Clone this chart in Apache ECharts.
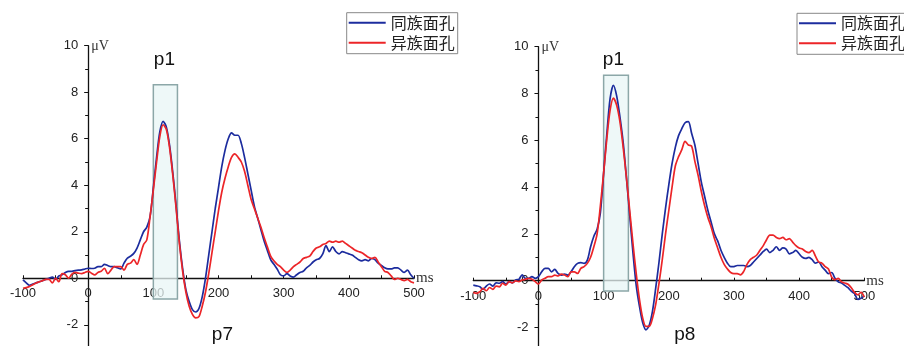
<!DOCTYPE html>
<html>
<head>
<meta charset="utf-8">
<script src="https://cdn.jsdelivr.net/npm/echarts@6/dist/echarts.min.js"></script>
<style>
  html, body { margin: 0; padding: 0; background: #fff; }
  #chart { width: 904px; height: 346px; }
</style>
</head>
<body>
<div id="chart"></div>
<script>
// time points (ms), every 5 ms from -100 to 500
const times = []
for (let t = -100; t <= 500; t += 5) times.push(t)

const names = ['同族面孔', '异族面孔']

// left panel (P7)
const leftSame = [
  -0.07, -0.2, -0.3, -0.25, -0.2, -0.15, -0.1, -0.05, 0, 0.05, -0.05, 0.1, 0.15, 0.25, 0.3, 0.3, 0.33, 0.35, 0.36, 0.4,
  0.43, 0.42, 0.43, 0.5, 0.5, 0.6, 0.55, 0.5, 0.5, 0.45, 0.4, 0.65, 0.86, 0.95, 1.07, 1.3, 1.65, 2.0, 2.2, 2.65,
  3.9, 5.2, 6.3, 6.75, 6.5, 5.7, 4.5, 3.1, 1.6, 0.4, -0.5, -1.0, -1.35, -1.45, -1.3, -0.8, 0.0, 1.0, 2.0, 3.0,
  3.9, 4.8, 5.5, 6.0, 6.25, 6.15, 6.15, 5.8, 5.2, 4.5, 3.8, 3.1, 2.6, 2.1, 1.6, 1.2, 0.8, 0.6, 0.4, 0.15,
  0.1, 0.2, 0.1, 0.05, 0.15, 0.25, 0.3, 0.45, 0.55, 0.7, 0.8, 0.85, 1.05, 1.4, 1.15, 1.35, 1.15, 1.05, 1.15, 1.1,
  1.05, 1.0, 0.9, 0.8, 0.75, 0.8, 0.75, 0.85, 0.8, 0.65, 0.55, 0.45, 0.4, 0.4, 0.45, 0.45, 0.35, 0.25, 0.35, 0.15,
  0.0
]
const leftOther = [
  -0.43, -0.4, -0.35, -0.28, -0.2, -0.15, -0.1, -0.05, -0.05, -0.2, 0.0, -0.15, 0.2, 0.15, 0.0, 0.18, 0.25, 0.22, 0.2, 0.25,
  0.3, 0.22, 0.15, 0.25, 0.3, 0.43, 0.2, 0.35, 0.5, 0.5, 0.5, 0.35, 0.6, 0.65, 0.8, 0.6, 1.0, 1.45, 1.65, 2.65,
  3.8, 5.0, 6.1, 6.6, 6.4, 5.6, 4.4, 3.0, 1.5, 0.3, -0.6, -1.2, -1.55, -1.7, -1.65, -1.2, -0.6, 0.2, 1.1, 2.0,
  2.9, 3.7, 4.3, 4.8, 5.2, 5.35, 5.2, 5.0, 4.6, 4.0, 3.4, 3.0, 2.6, 2.2, 1.75, 1.35, 0.95, 0.75, 0.6, 0.5,
  0.35, 0.25, 0.35, 0.5, 0.6, 0.7, 0.85, 0.9, 0.95, 1.15, 1.3, 1.35, 1.45, 1.5, 1.6, 1.55, 1.6, 1.55, 1.6, 1.5,
  1.4, 1.3, 1.2, 1.15, 1.1, 1.0, 0.9, 0.85, 0.9, 0.7, 0.5, 0.3, 0.25, 0.1, -0.05, 0.0, -0.05, -0.1, -0.05, -0.15,
  -0.2
]

// right panel (P8)
const rightSame = [
  -0.19, -0.22, -0.26, -0.37, -0.23, -0.14, -0.23, -0.09, -0.11, -0.04, -0.14, -0.04, -0.09, 0.03, 0.06, 0.25, 0.1, 0.1, 0.17, 0.1,
  0.17, 0.38, 0.53, 0.53, 0.38, 0.48, 0.31, 0.24, 0.28, 0.24, 0.38, 0.6, 0.74, 0.77, 0.74, 0.88, 1.45, 1.9, 2.2, 2.9,
  4.6, 6.3, 7.8, 8.35, 7.9, 7.0, 5.9, 4.4, 2.8, 1.2, -0.2, -1.1, -1.8, -2.1, -1.9, -1.3, -0.3, 0.8, 2.0, 3.1,
  4.1, 5.0, 5.7, 6.2, 6.5, 6.75, 6.8, 6.3, 5.8, 5.0, 4.2, 3.6, 3.0, 2.5, 2.0, 1.7, 1.3, 1.0, 0.75, 0.6,
  0.6, 0.65, 0.65, 0.65, 0.6, 0.65, 0.8, 0.95, 1.1, 1.25, 1.35, 1.2, 1.3, 1.45, 1.3, 1.4, 1.35, 1.15, 1.2, 1.3,
  1.15, 1.0, 0.95, 1.0, 0.9, 0.75, 0.8, 0.6, 0.45, 0.3, 0.35, 0.1, -0.05, -0.1, -0.2, -0.3, -0.45, -0.55, -0.8, -0.75,
  -0.65
]
const rightOther = [
  -0.5, -0.54, -0.47, -0.33, -0.43, -0.29, -0.37, -0.23, -0.26, -0.11, -0.19, -0.04, -0.09, -0.01, -0.04, 0.03, 0.06, 0.1, 0.06, -0.04,
  -0.14, 0.03, 0.1, 0.17, 0.17, 0.24, 0.2, 0.28, 0.24, 0.17, 0.38, 0.38, 0.31, 0.53, 0.6, 0.74, 1.0, 1.45, 2.0, 3.2,
  4.6, 6.1, 7.3, 7.8, 7.5, 6.8, 5.7, 4.4, 3.0, 1.6, 0.3, -0.8, -1.6, -1.95, -1.95, -1.6, -1.0, -0.1, 0.9, 2.0,
  3.0, 4.0, 4.9, 5.3, 5.6, 5.95, 5.8, 5.75, 5.1, 4.5, 3.8, 3.2, 2.7, 2.3, 1.8, 1.4, 1.0, 0.7, 0.5, 0.35,
  0.3, 0.3, 0.25, 0.4, 0.7, 0.9, 1.0, 1.1, 1.3, 1.5, 1.75, 1.95, 1.95, 1.85, 1.8, 1.85, 1.75, 1.8, 1.65, 1.5,
  1.4, 1.35, 1.25, 1.2, 1.3, 1.05, 0.8, 0.75, 0.6, 0.5, 0.15, 0.05, 0.1, -0.05, -0.1, -0.15, -0.3, -0.5, -0.6, -0.5,
  -0.7
]

// highlighted P1 windows [x0, y0, x1, y1]
const leftBox = [100, 8.32, 137, -0.89]
const rightBox = [100, 8.78, 138, -0.44]

// peak labels [name, ms, uV]
const leftLabels = [['p1', 117, 9.4], ['p7', 206, -2.44]]
const rightLabels = [['p1', 115, 9.43], ['p8', 224.5, -2.32]]

const xRange = [-100, 500]
const yRange = [-4, 10]

const blue = '#1c2c9e'
const red = '#ec2528'

// grid boxes in px: left, top, width, height
const grids = [
  { left: 23, top: 45.7, width: 391, height: 325.6 },
  { left: 473.3, top: 46.7, width: 391, height: 327.6 },
]

const pairs = (ys) => times.map((t, i) => [t, ys[i]])

const box = (b) => ({
  silent: true,
  itemStyle: { color: 'rgba(232,246,246,0.75)', borderColor: '#8ca7a8', borderWidth: 1.5 },
  data: [[{ coord: [b[0], b[1]] }, { coord: [b[2], b[3]] }]],
})

const labels = (list) => ({
  silent: true,
  symbol: 'rect',
  symbolSize: [24, 22],
  itemStyle: { color: 'rgba(0,0,0,0)' },
  label: {
    show: true,
    position: 'inside',
    formatter: '{b}',
    color: '#111',
    fontSize: 19,
    fontFamily: 'Liberation Sans, Arial, sans-serif',
  },
  data: list.map((l) => ({ name: l[0], coord: [l[1], l[2]] })),
})

// axes sit on the zero lines: shift them in from the grid edges
const xAxis = (gi) => ({
  gridIndex: gi,
  type: 'value',
  min: xRange[0],
  max: xRange[1],
  interval: 100,
  position: 'bottom',
  offset: -grids[gi].height * (0 - yRange[0]) / (yRange[1] - yRange[0]),
  name: 'ms',
  nameLocation: 'end',
  nameGap: 2,
  nameTextStyle: { fontFamily: 'Liberation Serif, serif', fontSize: 15, color: '#333' },
  axisLine: { onZero: false, lineStyle: { color: '#111', width: 1.3 } },
  axisTick: { inside: true, length: 3, lineStyle: { color: '#111' } },
  minorTick: { show: true, splitNumber: 2, length: 3, lineStyle: { color: '#111' } },
  splitLine: { show: false },
  axisLabel: { fontFamily: 'Liberation Sans, Arial, sans-serif', fontSize: 13, color: '#222', margin: 9 },
})

const yAxis = (gi) => ({
  gridIndex: gi,
  type: 'value',
  min: yRange[0],
  max: yRange[1],
  interval: 2,
  position: 'left',
  offset: -grids[gi].width * (0 - xRange[0]) / (xRange[1] - xRange[0]),
  name: 'μV',
  nameLocation: 'end',
  nameGap: -1,
  nameTextStyle: {
    fontFamily: 'Liberation Serif, serif', fontSize: 14, color: '#333',
    align: 'left', verticalAlign: 'middle', padding: [0, 0, 0, 3],
  },
  axisLine: { onZero: false, lineStyle: { color: '#111', width: 1.3 } },
  axisTick: { length: 4, lineStyle: { color: '#111' } },
  minorTick: { show: true, splitNumber: 2, length: 3, lineStyle: { color: '#111' } },
  splitLine: { show: false },
  axisLabel: { fontFamily: 'Liberation Sans, Arial, sans-serif', fontSize: 13, color: '#222', margin: 10 },
})

const line = (name, color, data, gi, extra) => Object.assign({
  name: name,
  type: 'line',
  xAxisIndex: gi,
  yAxisIndex: gi,
  data: data,
  symbol: 'none',
  smooth: 0.3,
  lineStyle: { color: color, width: 1.7 },
  itemStyle: { color: color },
  z: 3,
}, extra || {})

const legend = (left, top) => ({
  data: names,
  orient: 'vertical',
  left: left,
  top: top,
  icon: 'path://M0,0H40V2.2H0Z',
  itemWidth: 37,
  itemHeight: 16,
  itemGap: 4,
  padding: [2, 3, 3, 2],
  borderColor: '#888',
  borderWidth: 1,
  backgroundColor: '#fff',
  textStyle: { fontFamily: 'Noto Sans CJK SC', fontSize: 16, color: '#222' },
})

const chart = echarts.init(document.getElementById('chart'), null, { renderer: 'canvas' })
chart.setOption({
  animation: false,
  backgroundColor: '#fff',
  grid: grids.map((g) => Object.assign({ outerBoundsMode: 'none', containLabel: false }, g)),
  xAxis: [xAxis(0), xAxis(1)],
  yAxis: [yAxis(0), yAxis(1)],
  legend: [legend(346.7, 12.7), legend(797, 13.3)],
  series: [
    line(names[0], blue, pairs(leftSame), 0, { markArea: box(leftBox), markPoint: labels(leftLabels) }),
    line(names[1], red, pairs(leftOther), 0),
    line(names[0], blue, pairs(rightSame), 1, { markArea: box(rightBox), markPoint: labels(rightLabels) }),
    line(names[1], red, pairs(rightOther), 1),
  ],
})
</script>
</body>
</html>
